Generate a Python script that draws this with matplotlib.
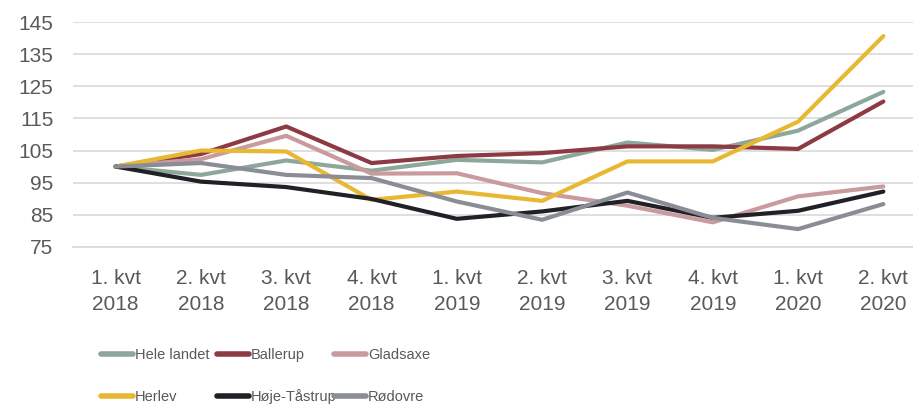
import matplotlib.pyplot as plt
import numpy as np

plt.rcParams['font.family'] = ['Liberation Sans', 'DejaVu Sans']

######## data ########
quarters = ["1. kvt\n2018", "2. kvt\n2018", "3. kvt\n2018", "4. kvt\n2018",
            "1. kvt\n2019", "2. kvt\n2019", "3. kvt\n2019", "4. kvt\n2019",
            "1. kvt\n2020", "2. kvt\n2020"]

hele_landet = [100, 97.4, 101.9, 98.7, 102.1, 101.3, 107.5, 105.2, 111.2, 123.3]
ballerup = [100, 103.9, 112.5, 101.1, 103.3, 104.2, 106.3, 106.3, 105.5, 120.3]
gladsaxe = [100, 102.3, 109.6, 97.8, 97.9, 91.7, 87.8, 82.6, 90.7, 93.8]
herlev = [100, 105.0, 104.7, 89.6, 92.2, 89.3, 101.6, 101.6, 114.0, 140.7]
hoje_taastrup = [100, 95.3, 93.6, 89.9, 83.7, 86.0, 89.3, 84.0, 86.2, 92.2]
roedovre = [100, 101.1, 97.4, 96.4, 89.1, 83.4, 91.9, 84.0, 80.5, 88.3]

series = [("Hele landet", hele_landet, "#8DA79B"),
          ("Ballerup", ballerup, "#8C3B44"),
          ("Gladsaxe", gladsaxe, "#C99A9E"),
          ("Herlev", herlev, "#E8B833"),
          ("Høje-Tåstrup", hoje_taastrup, "#202126"),
          ("Rødovre", roedovre, "#8A8C96")]

yticks = [75, 85, 95, 105, 115, 125, 135, 145]

########### plotting ###########
fig = plt.figure(figsize=(9.13, 4.07), dpi=100)
ax = fig.add_axes([73 / 913, 1 - 246.7 / 407, 853 / 913, (246.7 - 22.3) / 407])

x = np.arange(len(quarters))
handles = []
for name, vals, col in series:
    h, = ax.plot(x, vals, color=col, lw=3.0, label=name,
                 solid_capstyle='round', solid_joinstyle='round')
    handles.append(h)

ax.set_xlim(-0.5, len(quarters) - 0.5)
ax.set_ylim(75, 145)
ax.set_yticks(yticks)
ax.set_xticks(x)
ax.set_xticklabels(quarters, linespacing=1.45)
ax.grid(axis='y', color='#D9D9D9', lw=1.2)
ax.set_axisbelow(True)
for s in ['top', 'right', 'left']:
    ax.spines[s].set_visible(False)
ax.spines['bottom'].set_color('#D9D9D9')
ax.spines['bottom'].set_linewidth(1.2)
ax.tick_params(axis='both', length=0, labelsize=15, colors='#595959')
ax.tick_params(axis='y', pad=14)
ax.tick_params(axis='x', pad=16)

# legend: three columns, two rows each (text is squeezed in the original)
leg_size = 10.5
col_x = [101, 217, 334]
for i, cx in enumerate(col_x):
    hs = [handles[i], handles[i + 3]]
    leg = fig.legend(hs, [h.get_label() for h in hs], loc='center left',
                     bbox_to_anchor=(cx / 913, 1 - 376 / 407),
                     frameon=False, fontsize=leg_size,
                     handlelength=32 * 0.72 / leg_size,
                     handletextpad=0.15, borderpad=0, borderaxespad=0,
                     labelspacing=1.9)
    for t in leg.get_texts():
        t.set_color('#595959')
    for l in leg.get_lines():
        l.set_linewidth(4)

plt.savefig("out.png", dpi=100)
